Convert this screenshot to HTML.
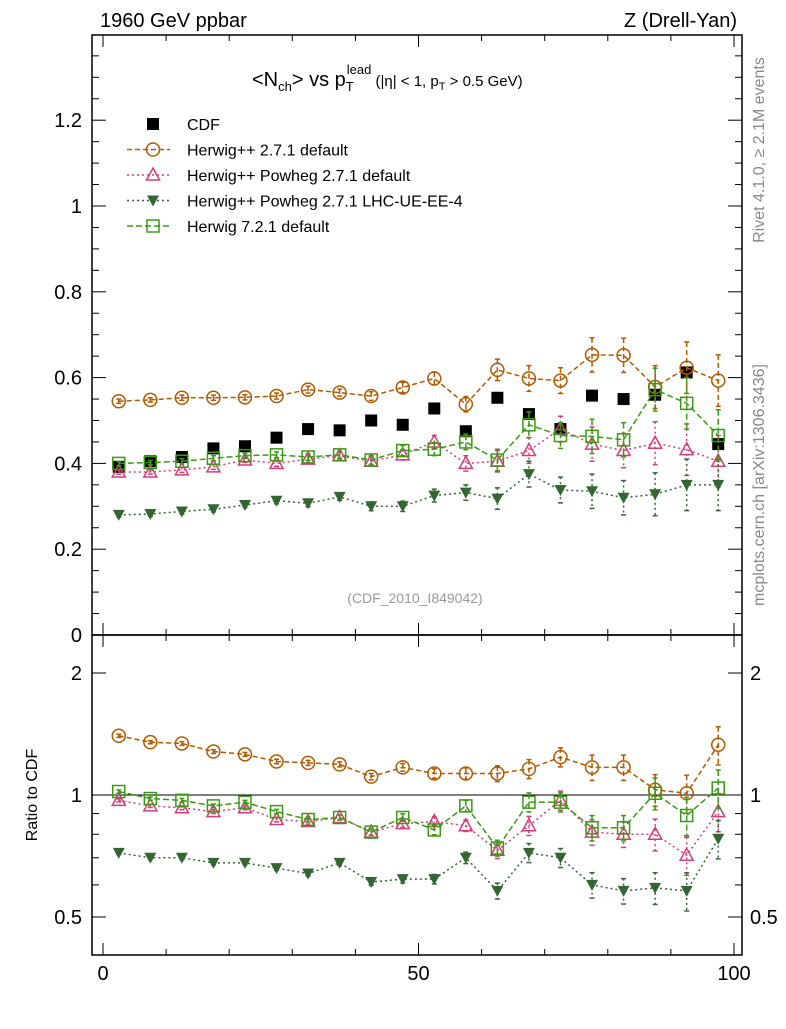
<!DOCTYPE html>
<html><head><meta charset="utf-8"><style>
body{margin:0;background:#fff;}
svg{font-family:"Liberation Sans",sans-serif;}
</style></head><body>
<svg id="c" width="786" height="1024" xmlns="http://www.w3.org/2000/svg"></svg>
<script>
const xs=[2.5,7.5,12.5,17.5,22.5,27.5,32.5,37.5,42.5,47.5,52.5,57.5,62.5,67.5,72.5,77.5,82.5,87.5,92.5,97.5];
const cdf=[0.392,0.405,0.415,0.435,0.44,0.46,0.48,0.477,0.5,0.49,0.528,0.475,0.553,0.515,0.48,0.558,0.55,0.56,0.612,0.445];
const hpp=[0.545,0.548,0.553,0.553,0.554,0.557,0.572,0.565,0.557,0.577,0.598,0.538,0.618,0.598,0.593,0.653,0.652,0.578,0.623,0.593];
const pow=[0.38,0.38,0.385,0.392,0.408,0.4,0.41,0.418,0.405,0.42,0.45,0.4,0.405,0.43,0.48,0.445,0.43,0.447,0.432,0.405];
const lhc=[0.28,0.282,0.288,0.293,0.303,0.313,0.307,0.322,0.3,0.3,0.325,0.332,0.318,0.375,0.338,0.335,0.32,0.328,0.35,0.35];
const h7=[0.4,0.402,0.405,0.412,0.418,0.42,0.415,0.42,0.408,0.43,0.433,0.45,0.408,0.49,0.465,0.463,0.455,0.572,0.54,0.465];
const errs=[0.005,0.005,0.006,0.006,0.006,0.007,0.008,0.008,0.01,0.012,0.015,0.018,0.025,0.03,0.03,0.04,0.04,0.05,0.06,0.06];
const rHpp=[1.40,1.35,1.34,1.28,1.26,1.21,1.20,1.19,1.11,1.17,1.13,1.13,1.13,1.16,1.24,1.17,1.17,1.03,1.01,1.33];
const rPow=[0.97,0.94,0.93,0.91,0.93,0.87,0.86,0.88,0.81,0.85,0.86,0.84,0.73,0.84,0.97,0.81,0.80,0.80,0.71,0.91];
const rLhc=[0.72,0.70,0.70,0.68,0.68,0.66,0.64,0.68,0.61,0.62,0.62,0.70,0.58,0.72,0.70,0.60,0.58,0.59,0.58,0.78];
const rH7=[1.02,0.98,0.97,0.94,0.96,0.91,0.87,0.88,0.81,0.88,0.82,0.94,0.74,0.96,0.96,0.83,0.83,1.01,0.89,1.04];
const mainTicks=["0","0.2","0.4","0.6","0.8","1","1.2"];
const xTicks=["0","50","100"];

const S=document.getElementById('c');const NS="http://www.w3.org/2000/svg";
function el(t,a,p){const e=document.createElementNS(NS,t);for(const k in a)e.setAttribute(k,a[k]);(p||S).appendChild(e);return e;}
const L=92,R=742,T=35,M=635,B=955;
const X=v=>103+v*6.31;
const Y=v=>635-v*429;
const YR=r=>795-122*Math.log2(r);
// frames
let f=el('rect',{x:L,y:T,width:R-L,height:M-T,fill:'none',stroke:'#000','stroke-width':1.5});

f=el('rect',{x:L,y:M,width:R-L,height:B-M,fill:'none',stroke:'#000','stroke-width':1.5});

// x ticks
for(let v=0;v<=100;v+=10){const maj=v%50==0;const l=maj?12:6;
 [T,M,B].forEach(y0=>{ if(y0!==T) el('line',{x1:X(v),x2:X(v),y1:y0,y2:y0-l,stroke:'#000'}); if(y0!==B) el('line',{x1:X(v),x2:X(v),y1:y0,y2:y0+l,stroke:'#000'});});}
xTicks.forEach(t=>{const e=el('text',{x:X(+t),y:980,'font-size':20,'text-anchor':'middle'});e.textContent=t;
 });
// main y ticks
for(let i=0;i<=27;i++){const v=i*0.05;const y=Y(v);if(y<T)break;const maj=i%4==0;const l=maj?14:7;
 el('line',{x1:L,x2:L+l,y1:y,y2:y,stroke:'#000'});el('line',{x1:R,x2:R-l,y1:y,y2:y,stroke:'#000'});}
mainTicks.forEach(t=>{const e=el('text',{x:82,y:Y(+t)+7,'font-size':20,'text-anchor':'end'});e.textContent=t;
 });
// ratio ticks
const rt=[0.5,0.6,0.7,0.8,0.9,1,2];
rt.forEach(r=>{const maj=(r==0.5||r==1||r==2);const l=maj?14:7;const y=YR(r);
 el('line',{x1:L,x2:L+l,y1:y,y2:y,stroke:'#000'});el('line',{x1:R,x2:R-l,y1:y,y2:y,stroke:'#000'});});
[[0.5,'0.5'],[1,'1'],[2,'2']].forEach(([r,t])=>{let e=el('text',{x:82,y:YR(r)+7,'font-size':20,'text-anchor':'end'});e.textContent=t;
 
 e=el('text',{x:750,y:YR(r)+7,'font-size':20});e.textContent=t;
 });
el('line',{x1:L,x2:R,y1:YR(1),y2:YR(1),stroke:'#000'});
// markers
function marker(g,type,x,y,c){
 if(type=='sq-fill')el('rect',{x:x-6,y:y-6,width:12,height:12,fill:'#000'},g);
 if(type=='circ')el('circle',{cx:x,cy:y,r:6.5,fill:'none',stroke:c,'stroke-width':1.5},g);
 if(type=='tri')el('path',{d:`M${x},${y-7}L${x+6.5},${y+5}L${x-6.5},${y+5}Z`,fill:'none',stroke:c,'stroke-width':1.5},g);
 if(type=='tridown')el('path',{d:`M${x},${y+6}L${x+6},${y-5}L${x-6},${y-5}Z`,fill:c},g);
 if(type=='sq')el('rect',{x:x-6,y:y-6,width:12,height:12,fill:'none',stroke:c,'stroke-width':1.5},g);
}
function series(name,vals,yf,c,dash,type,isRatio){
 const g=el('g',{});
 if(dash!==null){el('polyline',{points:vals.map((v,i)=>X(xs[i])+','+yf(v)).join(' '),fill:'none',stroke:c,'stroke-width':1.5,'stroke-dasharray':dash},g);}
 vals.forEach((v,i)=>{const e=errs[i]*(isRatio?1.8:1);const y1=isRatio?YR(v*(1+e)):Y(v+errs[i]);const y2=isRatio?YR(v*(1-e)):Y(v-errs[i]);
  if(type!='sq-fill'){el('line',{x1:X(xs[i]),x2:X(xs[i]),y1:y1,y2:y2,stroke:c,'stroke-width':1.5,'stroke-dasharray':dash||''},g);
   el('line',{x1:X(xs[i])-2.5,x2:X(xs[i])+2.5,y1:y1,y2:y1,stroke:c,'stroke-width':1.5},g);
   el('line',{x1:X(xs[i])-2.5,x2:X(xs[i])+2.5,y1:y2,y2:y2,stroke:c,'stroke-width':1.5},g);}
  marker(g,type,X(xs[i]),yf(v),c);});
}
const cH='#b35900',cP='#d63c7a',cL='#336633',cG='#3a9a14';
series('cdf-data',cdf,Y,'#000',null,'sq-fill',false);
series('herwigpp-default',hpp,Y,cH,'5,3','circ',false);
series('herwigpp-powheg',pow,Y,cP,'2,3','tri',false);
series('herwigpp-powheg-lhc',lhc,Y,cL,'2,3','tridown',false);
series('herwig7-default',h7,Y,cG,'6,3','sq',false);
series('ratio-herwigpp-default',rHpp,YR,cH,'5,3','circ',true);
series('ratio-herwigpp-powheg',rPow,YR,cP,'2,3','tri',true);
series('ratio-herwigpp-powheg-lhc',rLhc,YR,cL,'2,3','tridown',true);
series('ratio-herwig7-default',rH7,YR,cG,'6,3','sq',true);
// legend
const leg=[['CDF','#000',null,'sq-fill'],['Herwig++ 2.7.1 default',cH,'5,3','circ'],['Herwig++ Powheg 2.7.1 default',cP,'2,3','tri'],['Herwig++ Powheg 2.7.1 LHC-UE-EE-4',cL,'2,3','tridown'],['Herwig 7.2.1 default',cG,'6,3','sq']];
leg.forEach((l,i)=>{const y=124+i*25.5;const g=el('g',{});
 if(l[2])el('line',{x1:127,x2:170,y1:y,y2:y,stroke:l[1],'stroke-width':1.5,'stroke-dasharray':l[2]},g);
 marker(g,l[3],153,y,l[1]);const t=el('text',{x:187,y:y+6,'font-size':16},g);t.textContent=l[0];});
// titles
function txt(name,x,y,s,str,extra){const e=el('text',Object.assign({x:x,y:y,'font-size':s},extra||{}));e.innerHTML=str;return e;}
txt('energy-label',100,27,20,'1960 GeV ppbar');
txt('process-label',737,27,20,'Z (Drell-Yan)',{'text-anchor':'end'});
txt('plot-title',252,86,20,'&lt;N<tspan font-size="13" dy="5">ch</tspan><tspan dy="-5">&gt; vs p</tspan><tspan font-size="13" dy="5">T</tspan><tspan font-size="13" dx="-7" dy="-17">lead</tspan><tspan font-size="15" dy="12"> (|η| &lt; 1, p</tspan><tspan font-size="11" dy="4">T</tspan><tspan font-size="15" dy="-4"> &gt; 0.5 GeV)</tspan>');
txt('analysis-id',415,603,14,'(CDF_2010_I849042)',{'text-anchor':'middle',fill:'#999'});
txt('y-axis-title-ratio',37,795,16,'Ratio to CDF',{'text-anchor':'middle',transform:'rotate(-90 37 795)'});
txt('rivet-label',764,150,16,'Rivet 4.1.0, ≥ 2.1M events',{'text-anchor':'middle',fill:'#888',transform:'rotate(-90 764 150)'});
txt('mcplots-label',764,485,16,'mcplots.cern.ch [arXiv:1306.3436]',{'text-anchor':'middle',fill:'#888',transform:'rotate(-90 764 485)'});
</script>
</body></html>
